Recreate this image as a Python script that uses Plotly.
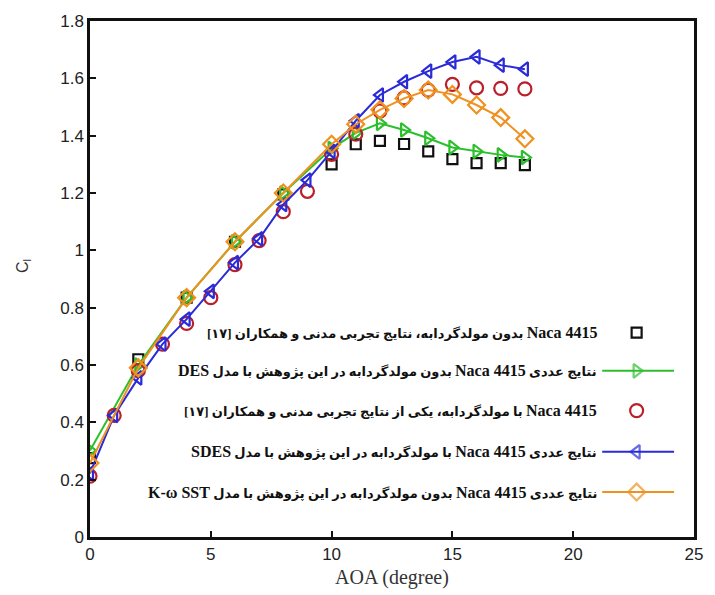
import re
import plotly.graph_objects as go

# Angle of attack (degrees)
aoa_full = list(range(19))
aoa_sparse = [0, 2, 4, 6, 8, 10, 11, 12, 13, 14, 15, 16, 17, 18]

# Lift coefficient series
cl_exp_clean = [0.275, 0.62, 0.835, 1.03, 1.195, 1.30, 1.37, 1.382, 1.371, 1.345, 1.318, 1.304, 1.304, 1.297]
cl_des_clean = [0.302, 0.60, 0.835, 1.03, 1.20, 1.355, 1.41, 1.443, 1.42, 1.391, 1.359, 1.345, 1.333, 1.324]
cl_exp_vg = [0.212, 0.424, 0.58, 0.673, 0.745, 0.835, 0.95, 1.034, 1.135, 1.206, 1.335, 1.405,
             1.486, 1.532, 1.559, 1.579, 1.567, 1.565, 1.563]
cl_sdes_vg = [0.222, 0.424, 0.555, 0.673, 0.76, 0.857, 0.957, 1.04, 1.16, 1.245, 1.345, 1.452,
              1.542, 1.588, 1.625, 1.657, 1.675, 1.646, 1.632]
cl_sst_clean = [0.258, 0.59, 0.835, 1.03, 1.20, 1.37, 1.44, 1.49, 1.53, 1.559, 1.544, 1.507, 1.463, 1.389]

legend_labels = [
    "Naca 4415 بدون مولدگردابه، نتایج تجربی مدنی و همکاران [۱۷]",
    "نتایج عددی Naca 4415 بدون مولدگردابه در این پژوهش با مدل DES",
    "Naca 4415 با مولدگردابه، یکی از نتایج تجربی مدنی و همکاران [۱۷]",
    "نتایج عددی Naca 4415 با مولدگردابه در این پژوهش با مدل SDES",
    "نتایج عددی Naca 4415 بدون مولدگردابه در این پژوهش با مدل K-ω SST",
]

x_ticks = [0, 5, 10, 15, 20, 25]
y_ticks = [0, 0.2, 0.4, 0.6, 0.8, 1, 1.2, 1.4, 1.6, 1.8]
y_tick_text = ["0", "0.2", "0.4", "0.6", "0.8", "1", "1.2", "1.4", "1.6", "1.8"]

BLACK = "#111111"
GREEN = "#2cbf2c"
RED = "#b8202a"
BLUE = "#2a2ad8"
ORANGE = "#f0901e"

series = [
    dict(x=aoa_sparse, y=cl_exp_clean, color=BLACK, symbol="square-open", size=10, mode="markers"),
    dict(x=aoa_sparse, y=cl_des_clean, color=GREEN, symbol="triangle-right-open", size=12, mode="lines+markers"),
    dict(x=aoa_full, y=cl_exp_vg, color=RED, symbol="circle-open", size=13, mode="markers"),
    dict(x=aoa_full, y=cl_sdes_vg, color=BLUE, symbol="triangle-left-open", size=12, mode="lines+markers"),
    dict(x=aoa_sparse, y=cl_sst_clean, color=ORANGE, symbol="diamond-open", size=13, mode="lines+markers"),
]


def styled_label(text):
    """Bold label, Latin runs set a little larger than the Persian text, RTL embedding."""
    text = re.sub(r"([A-Za-z][A-Za-z0-9 \-ω]*[A-Za-z0-9])",
                  r'<span style="font-size:16px">\1</span>', text)
    return "<b>\u202b" + text + "\u202c</b>"


fig = go.Figure()

for s in series:
    fig.add_trace(go.Scatter(
        x=s["x"], y=s["y"], mode=s["mode"],
        line=dict(color=s["color"], width=2),
        marker=dict(symbol=s["symbol"], size=s["size"], color=s["color"],
                    line=dict(color=s["color"], width=2.2)),
        showlegend=False,
    ))

# Right-to-left legend: text on the left, sample on the right
legend_rows_y = [0.396, 0.322, 0.245, 0.165, 0.087]
sample_x0, sample_x1, sample_xm = 0.848, 0.967, 0.905
text_right = 0.842

for s, label, ly in zip(series, legend_labels, legend_rows_y):
    if "lines" in s["mode"]:
        fig.add_trace(go.Scatter(
            x=[sample_x0, sample_xm, sample_x1], y=[ly, ly, ly], xaxis="x2", yaxis="y2",
            mode="lines+markers", line=dict(color=s["color"], width=2),
            marker=dict(symbol=s["symbol"], size=[0, s["size"], 0], color=s["color"],
                        line=dict(color=s["color"], width=2.2)),
            showlegend=False, hoverinfo="skip",
        ))
    else:
        fig.add_trace(go.Scatter(
            x=[sample_xm], y=[ly], xaxis="x2", yaxis="y2", mode="markers",
            marker=dict(symbol=s["symbol"], size=s["size"], color=s["color"],
                        line=dict(color=s["color"], width=2.2)),
            showlegend=False, hoverinfo="skip",
        ))
    fig.add_annotation(
        x=text_right, y=ly, xref="paper", yref="paper", xanchor="right", yanchor="middle",
        text=styled_label(label), showarrow=False,
        font=dict(family="Liberation Serif, DejaVu Sans, serif", size=13, color="#111111"),
    )

# Axis titles
fig.add_annotation(x=0.5, y=-0.079, xref="paper", yref="paper", xanchor="center", yanchor="middle",
                   text="AOA (degree)", showarrow=False,
                   font=dict(family="Liberation Serif, serif", size=20, color="#333333"))
fig.add_annotation(x=-0.111, y=0.525, xref="paper", yref="paper", xanchor="center", yanchor="middle",
                   text="C<sub>l</sub>", showarrow=False, textangle=-90,
                   font=dict(family="Liberation Sans, sans-serif", size=16, color="#333333"))

axis_common = dict(
    showgrid=False, zeroline=False, showline=True, linecolor="#111111", linewidth=2.5,
    mirror=True, ticks="inside", ticklen=6, tickwidth=2, tickcolor="#111111",
    tickfont=dict(family="Liberation Sans, Arial, sans-serif", size=17, color="#222222"),
)

fig.update_layout(
    width=715, height=595,
    margin=dict(l=90, r=12, t=19, b=58),
    paper_bgcolor="white", plot_bgcolor="white",
    xaxis=dict(range=[0, 25], tickvals=x_ticks, **axis_common),
    yaxis=dict(range=[0, 1.8], tickvals=y_ticks, ticktext=y_tick_text, **axis_common),
    xaxis2=dict(range=[0, 1], overlaying="x", visible=False, fixedrange=True),
    yaxis2=dict(range=[0, 1], overlaying="y", visible=False, fixedrange=True),
)

fig.write_html("out.html")
